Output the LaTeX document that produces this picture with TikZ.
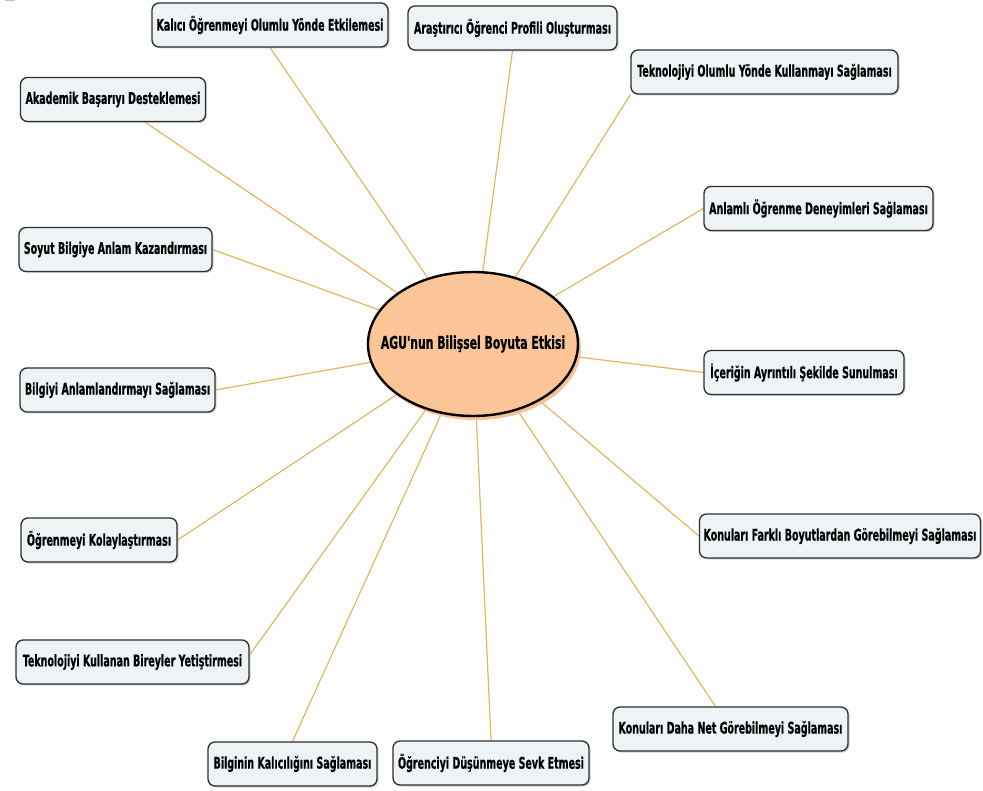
\documentclass[tikz,border=0pt]{standalone}
\usepackage{fontspec}
\newfontfamily\mapfont{DejaVu Sans Condensed Bold}[FakeStretch=0.66,FakeBold=0.6]
\newfontfamily\centerfont{DejaVu Sans Condensed Bold}[FakeStretch=0.69,FakeBold=0.6]
\usetikzlibrary{shapes.geometric,shadows,backgrounds}
\definecolor{boxfill}{HTML}{EEF3F5}
\definecolor{boxline}{HTML}{2E2E2E}
\definecolor{linkcol}{HTML}{E4B65E}
\definecolor{centerfill}{HTML}{FBC597}
\definecolor{centershadow}{HTML}{F7BC86}
\begin{document}
\begin{tikzpicture}[x=1pt,y=-1pt,
  mapbox/.style={draw=boxline, line width=1.3pt, fill=boxfill, rounded corners=7pt,
    minimum height=44pt, inner xsep=3pt, inner ysep=2pt, align=center,
    font=\mapfont\fontsize{16}{18}\selectfont, text=black,
    drop shadow={shadow xshift=1.5pt, shadow yshift=-1.5pt, fill=black!35, opacity=0.5}},
  centernode/.style={ellipse, draw=black, line width=2.4pt, fill=centerfill,
    minimum width=210pt, minimum height=144pt, inner xsep=-30pt, inner ysep=0pt,
    font=\centerfont\fontsize{17.5}{19}\selectfont, text=black,
    drop shadow={shadow xshift=3pt, shadow yshift=-4pt, fill=centershadow, opacity=0.9}},
  link/.style={draw=linkcol, line width=1.2pt}]
\useasboundingbox (0,0) rectangle (983,791);
\fill[black!25] (5,0) rectangle (15,1.5);

\node[centernode] (c) at (473,344) {AGU'nun Bilişsel Boyuta Etkisi};

\node[mapbox, minimum width=236pt] (b1) at (270,25) {Kalıcı Öğrenmeyi Olumlu Yönde Etkilemesi};
\node[mapbox, minimum width=209pt] (b2) at (512.5,28) {Araştırıcı Öğrenci Profili Oluşturması};
\node[mapbox, minimum width=267pt] (b3) at (764.5,72) {Teknolojiyi Olumlu Yönde Kullanmayı Sağlaması};
\node[mapbox, minimum width=185pt] (b4) at (113,99.5) {Akademik Başarıyı Desteklemesi};
\node[mapbox, minimum width=229pt] (b5) at (818.5,208.5) {Anlamlı Öğrenme Deneyimleri Sağlaması};
\node[mapbox, minimum width=193pt] (b6) at (115.5,249.5) {Soyut Bilgiye Anlam Kazandırması};
\node[mapbox, minimum width=200pt] (b7) at (804,372.5) {İçeriğin Ayrıntılı Şekilde Sunulması};
\node[mapbox, minimum width=195pt] (b8) at (117.5,390) {Bilgiyi Anlamlandırmayı Sağlaması};
\node[mapbox, minimum width=156pt] (b9) at (99,540) {Öğrenmeyi Kolaylaştırması};
\node[mapbox, minimum width=281pt] (b14) at (840,536) {Konuları Farklı Boyutlardan Görebilmeyi Sağlaması};
\node[mapbox, minimum width=233pt] (b10) at (132.5,662) {Teknolojiyi Kullanan Bireyler Yetiştirmesi};
\node[mapbox, minimum width=235pt] (b13) at (730.5,729) {Konuları Daha Net Görebilmeyi Sağlaması};
\node[mapbox, minimum width=169pt] (b11) at (292.5,764) {Bilginin Kalıcılığını Sağlaması};
\node[mapbox, minimum width=196pt] (b12) at (491,763) {Öğrenciyi Düşünmeye Sevk Etmesi};

\begin{scope}[on background layer]
\draw[link] (b1.south) -- (c);
\draw[link] (b2.south) -- (c);
\draw[link] (b3.south west) -- (c);
\draw[link] ([xshift=32pt]b4.south) -- (c);
\draw[link] (b5.west) -- (c);
\draw[link] (b6.east) -- (c);
\draw[link] (b7.west) -- (c);
\draw[link] (b8.east) -- (c);
\draw[link] (b9.east) -- (c);
\draw[link] ([yshift=7pt]b10.east) -- (c);
\draw[link] (b11.north) -- (c);
\draw[link] (b12.north) -- (c);
\draw[link] ([xshift=-15pt]b13.north) -- (c);
\draw[link] (b14.west) -- (c);
\end{scope}
\end{tikzpicture}
\end{document}
